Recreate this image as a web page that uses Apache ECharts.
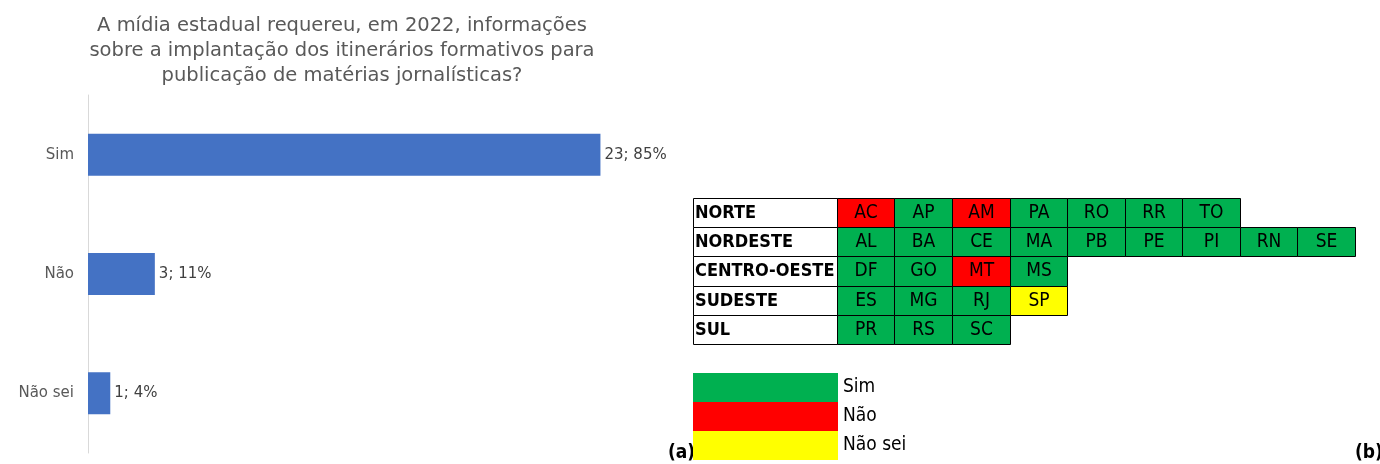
<!DOCTYPE html>
<html>
<head>
<meta charset="utf-8">
<script src="https://cdn.jsdelivr.net/npm/echarts@6/dist/echarts.min.js"></script>
<style>
  html, body { margin: 0; padding: 0; background: #fff; }
  #chart { width: 1380px; height: 464px; }
</style>
</head>
<body>
<div id="chart"></div>
<script>
// (a) bar chart
const answers = ['Sim', 'Não', 'Não sei'];
const answerCounts = [23, 3, 1];

// (b) table of states per region
const regions = ['NORTE', 'NORDESTE', 'CENTRO-OESTE', 'SUDESTE', 'SUL'];
const regionStates = [
    ['AC', 'AP', 'AM', 'PA', 'RO', 'RR', 'TO'],
    ['AL', 'BA', 'CE', 'MA', 'PB', 'PE', 'PI', 'RN', 'SE'],
    ['DF', 'GO', 'MT', 'MS'],
    ['ES', 'MG', 'RJ', 'SP'],
    ['PR', 'RS', 'SC']
];
const regionAnswers = [
    ['Não', 'Sim', 'Não', 'Sim', 'Sim', 'Sim', 'Sim'],
    ['Sim', 'Sim', 'Sim', 'Sim', 'Sim', 'Sim', 'Sim', 'Sim', 'Sim'],
    ['Sim', 'Sim', 'Não', 'Sim'],
    ['Sim', 'Sim', 'Sim', 'Não sei'],
    ['Sim', 'Sim', 'Sim']
];
const answerColors = { 'Sim': '#00B050', 'Não': '#FF0000', 'Não sei': '#FFFF00' };

const total = answerCounts.reduce((a, b) => a + b, 0);
const tableFont = '"DejaVu Sans Condensed", "Liberation Sans Narrow", sans-serif';
const LABEL_W = 2.5;

function cellsFor(answer) {
    const out = [];
    regionStates.forEach((states, r) => {
        states.forEach((st, c) => {
            if (regionAnswers[r][c] === answer) out.push([c, r, st]);
        });
    });
    return out;
}

function renderCell(params, api) {
    const x = api.value(0), y = api.value(1);
    const isLabel = x < 0;
    const w = isLabel ? LABEL_W : 1;
    const p0 = api.coord([x, y]);
    const p1 = api.coord([x + w, y + 1]);
    return {
        type: 'rect',
        shape: { x: Math.round(p0[0]) + 0.5, y: Math.round(p0[1]) + 0.5,
                 width: Math.round(p1[0]) - Math.round(p0[0]), height: Math.round(p1[1]) - Math.round(p0[1]) },
        style: { fill: api.visual('color'), stroke: '#000', lineWidth: 1 },
        textContent: {
            style: {
                text: api.value(2),
                fontFamily: tableFont,
                fontSize: isLabel ? 18 : 19,
                fontWeight: isLabel ? 'bold' : 'normal',
                fill: '#000'
            }
        },
        textConfig: { position: isLabel ? 'insideLeft' : 'inside', distance: 2 }
    };
}

const chart = echarts.init(document.getElementById('chart'));

const stateSeries = answers.map(a => ({
    name: a,
    type: 'custom',
    xAxisIndex: 1,
    yAxisIndex: 1,
    renderItem: renderCell,
    itemStyle: { color: answerColors[a] },
    encode: { x: 0, y: 1 },
    data: cellsFor(a)
}));

chart.setOption({
    animation: false,
    title: {
        text: 'A mídia estadual requereu, em 2022, informações\nsobre a implantação dos itinerários formativos para\npublicação de matérias jornalísticas?',
        left: 337,
        top: 8,
        textAlign: 'center',
        textStyle: {
            fontFamily: '"DejaVu Sans", sans-serif',
            fontSize: 19.5,
            fontWeight: 'normal',
            color: '#595959',
            lineHeight: 25
        }
    },
    legend: {
        data: answers,
        orient: 'vertical',
        left: 693,
        top: 373,
        padding: 0,
        itemWidth: 145,
        itemHeight: 29,
        itemGap: 0,
        icon: 'rect',
        selectedMode: false,
        textStyle: { fontFamily: tableFont, fontSize: 19, color: '#000' }
    },
    grid: [
        { left: 88, top: 95, width: 557, height: 358 },
        { left: 693, top: 198, width: 662, height: 263 }
    ],
    xAxis: [
        { type: 'value', gridIndex: 0, min: 0, max: 25, show: false },
        { type: 'value', gridIndex: 1, min: -LABEL_W, max: 9, show: false }
    ],
    yAxis: [
        {
            type: 'category', gridIndex: 0, data: answers, inverse: true,
            axisLine: { lineStyle: { color: '#d9d9d9' } },
            axisTick: { show: false },
            axisLabel: { fontFamily: '"DejaVu Sans", sans-serif', fontSize: 15, color: '#595959', margin: 14 }
        },
        { type: 'value', gridIndex: 1, min: 0, max: 9, inverse: true, show: false }
    ],
    graphic: [
        { type: 'text', left: 668, top: 444, style: { text: '(a)', fontFamily: tableFont, fontSize: 19, fontWeight: 'bold', fill: '#000' } },
        { type: 'text', left: 1355, top: 444, style: { text: '(b)', fontFamily: tableFont, fontSize: 19, fontWeight: 'bold', fill: '#000' } }
    ],
    series: [
        {
            name: 'respostas',
            type: 'bar',
            xAxisIndex: 0,
            yAxisIndex: 0,
            barWidth: 42,
            itemStyle: { color: '#4472C4' },
            label: {
                show: true,
                position: 'right',
                distance: 4,
                fontFamily: '"DejaVu Sans", sans-serif',
                fontSize: 15,
                color: '#404040',
                formatter: p => p.value + '; ' + Math.round(p.value / total * 100) + '%'
            },
            data: answerCounts
        },
        {
            name: 'regiao',
            type: 'custom',
            xAxisIndex: 1,
            yAxisIndex: 1,
            renderItem: renderCell,
            itemStyle: { color: '#fff' },
            encode: { x: 0, y: 1 },
            data: regions.map((r, i) => [-LABEL_W, i, r])
        },
        ...stateSeries
    ]
});
</script>
</body>
</html>
